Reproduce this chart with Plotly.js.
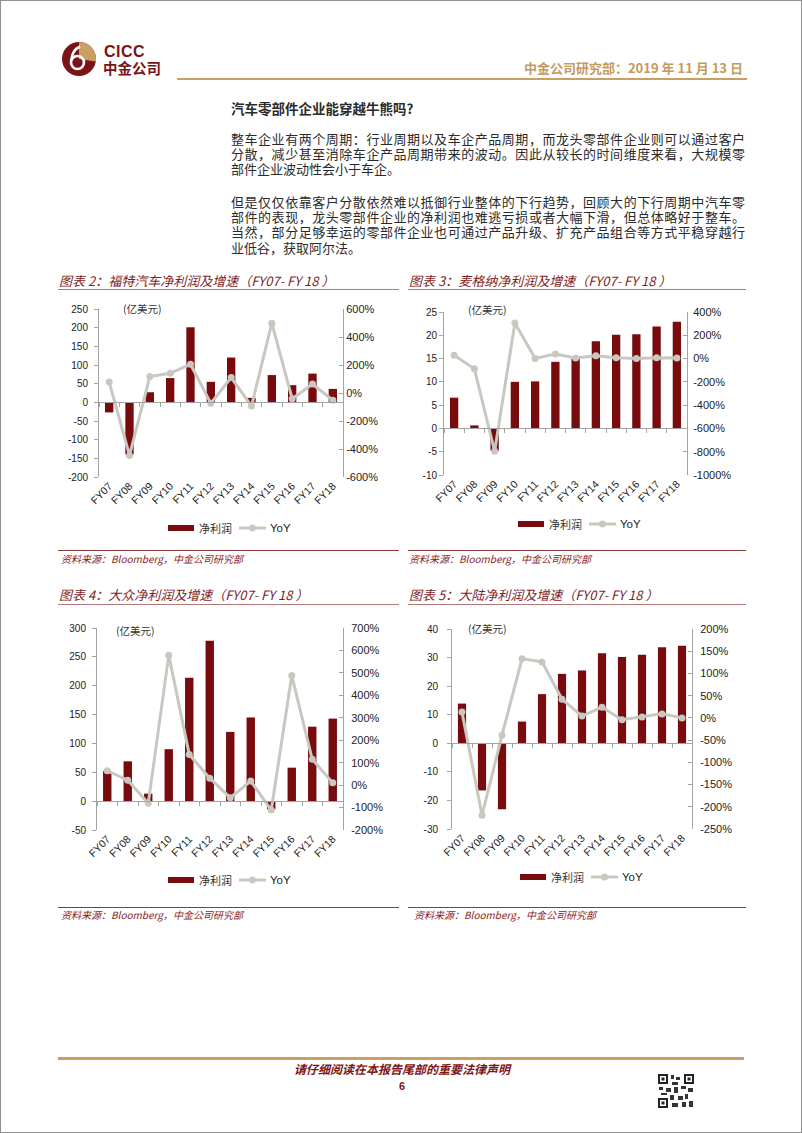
<!DOCTYPE html>
<html>
<head>
<meta charset="utf-8">
<script src="https://cdn.plot.ly/plotly-3.0.1.min.js"></script>
<style>
  body { margin: 0; background: #fff; }
  #page { position: relative; width: 800px; height: 1131px; border: 1px solid #8f8f8f; background: #fff; overflow: hidden;
          font-family: "Noto Sans CJK SC", sans-serif; }
  .abs { position: absolute; }
  .line { position: absolute; left: 230px; width: 514px; height: 15px; line-height: 15px; font-size: 13px; color: #2a2a2a; white-space: nowrap; }
  .full { text-align: justify; text-align-last: justify; }
  .ctitle { position: absolute; font-size: 13px; font-style: italic; color: #7f1d1d; line-height: 16px; white-space: nowrap; }
  .crule { position: absolute; height: 1px; background: #b07a7a; }
  .srule { position: absolute; height: 1px; background: #8b3a3a; }
  .src { position: absolute; font-size: 10px; font-style: italic; color: #8b1a1a; line-height: 12px; white-space: nowrap; }
  .chart { position: absolute; }
</style>
</head>
<body>
<div id="page">
  <!-- header -->
  <svg class="abs" style="left:60px;top:40px" width="36" height="36" viewBox="0 0 36 36">
    <circle cx="18" cy="18" r="17" fill="#7b1416"/>
    <path d="M18,18 L18,1 A17,17 0 0 1 34.8,20.5 Z" fill="#c9a063"/>
    <circle cx="16.5" cy="21.5" r="6.5" fill="none" stroke="#fff" stroke-width="2.6"/>
    <path d="M10.2,20 Q11,9 19,5.5" fill="none" stroke="#fff" stroke-width="2.6"/>
  </svg>
  <div class="abs" style="left:103px;top:42px;font:bold 16px 'Liberation Sans',Arial,sans-serif;color:#7b1416;letter-spacing:0.5px">CICC</div>
  <div class="abs" style="left:102px;top:58px;font-size:14.5px;font-weight:bold;color:#7b1416;line-height:17px">中金公司</div>
  <div class="abs" style="right:58px;top:59px;font-size:13px;font-weight:bold;color:#c39a5f;line-height:16px">中金公司研究部：2019 年 11 月 13 日</div>
  <div class="abs" style="left:176px;top:77px;width:570px;height:2px;background:#c9a063"></div>

  <!-- text -->
  <div class="line" style="top:100px;font-weight:bold;font-size:13.5px">汽车零部件企业能穿越牛熊吗?</div>
  <div class="line full" style="top:130px">整车企业有两个周期：行业周期以及车企产品周期，而龙头零部件企业则可以通过客户</div>
  <div class="line full" style="top:145px">分散，减少甚至消除车企产品周期带来的波动。因此从较长的时间维度来看，大规模零</div>
  <div class="line" style="top:160px">部件企业波动性会小于车企。</div>
  <div class="line full" style="top:193px">但是仅仅依靠客户分散依然难以抵御行业整体的下行趋势，回顾大的下行周期中汽车零</div>
  <div class="line full" style="top:208px">部件的表现，龙头零部件企业的净利润也难逃亏损或者大幅下滑，但总体略好于整车。</div>
  <div class="line full" style="top:223px">当然，部分足够幸运的零部件企业也可通过产品升级、扩充产品组合等方式平稳穿越行</div>
  <div class="line" style="top:239px">业低谷，获取阿尔法。</div>

  <!-- chart frames -->
  <div class="ctitle" style="left:58px;top:272px">图表 2：福特汽车净利润及增速（FY07- FY 18 ）</div>
  <div class="crule" style="left:57px;top:288px;width:341px"></div>
  <div class="ctitle" style="left:408px;top:272px">图表 3：麦格纳净利润及增速（FY07- FY 18 ）</div>
  <div class="crule" style="left:407px;top:288px;width:338px"></div>
  <div class="ctitle" style="left:58px;top:586px">图表 4：大众净利润及增速（FY07- FY 18 ）</div>
  <div class="crule" style="left:57px;top:603px;width:341px"></div>
  <div class="ctitle" style="left:408px;top:586px">图表 5：大陆净利润及增速（FY07- FY 18 ）</div>
  <div class="crule" style="left:407px;top:603px;width:338px"></div>

  <div id="chartFord" class="chart"></div>
  <div id="chartMagna" class="chart"></div>
  <div id="chartVW" class="chart"></div>
  <div id="chartConti" class="chart"></div>

  <div class="srule" style="left:57px;top:549px;width:341px"></div>
  <div class="src" style="left:60px;top:552px">资料来源：Bloomberg，中金公司研究部</div>
  <div class="srule" style="left:407px;top:549px;width:338px"></div>
  <div class="src" style="left:408px;top:552px">资料来源：Bloomberg，中金公司研究部</div>
  <div class="srule" style="left:57px;top:906px;width:341px"></div>
  <div class="src" style="left:60px;top:908px">资料来源：Bloomberg，中金公司研究部</div>
  <div class="srule" style="left:407px;top:906px;width:338px"></div>
  <div class="src" style="left:413px;top:908px">资料来源：Bloomberg，中金公司研究部</div>

  <!-- footer -->
  <div class="abs" style="left:57px;top:1056px;width:686px;height:3px;background:#c9a063"></div>
  <div class="abs" style="left:0;width:802px;top:1061px;text-align:center;font-size:12px;font-style:italic;font-weight:bold;color:#7f1416;line-height:14px">请仔细阅读在本报告尾部的重要法律声明</div>
  <div class="abs" style="left:0;width:802px;top:1078px;text-align:center;font:bold 11px 'Liberation Sans',Arial,sans-serif;color:#7f1416;line-height:14px">6</div>
  <svg class="abs" style="left:657px;top:1073px" width="36" height="34" viewBox="0 0 36 34">
    <rect x="0" y="0" width="10" height="10" fill="#222"/><rect x="2" y="2" width="6" height="6" fill="#fff"/><rect x="3.5" y="3.5" width="3" height="3" fill="#222"/>
    <rect x="26" y="0" width="10" height="10" fill="#222"/><rect x="28" y="2" width="6" height="6" fill="#fff"/><rect x="29.5" y="3.5" width="3" height="3" fill="#222"/>
    <rect x="0" y="24" width="10" height="10" fill="#222"/><rect x="2" y="26" width="6" height="6" fill="#fff"/><rect x="3.5" y="27.5" width="3" height="3" fill="#222"/>
    <rect x="13" y="1" width="3" height="4" fill="#333"/><rect x="18" y="3" width="4" height="3" fill="#333"/><rect x="14" y="8" width="6" height="3" fill="#333"/>
    <rect x="1" y="13" width="4" height="3" fill="#333"/><rect x="8" y="14" width="5" height="4" fill="#333"/><rect x="16" y="13" width="4" height="6" fill="#333"/>
    <rect x="23" y="12" width="5" height="3" fill="#333"/><rect x="30" y="14" width="5" height="4" fill="#333"/><rect x="3" y="19" width="6" height="2" fill="#333"/>
    <rect x="12" y="21" width="4" height="5" fill="#333"/><rect x="20" y="22" width="5" height="4" fill="#333"/><rect x="27" y="20" width="3" height="5" fill="#333"/>
    <rect x="14" y="29" width="6" height="4" fill="#333"/><rect x="24" y="28" width="4" height="5" fill="#333"/><rect x="31" y="27" width="4" height="6" fill="#333"/>
  </svg>
</div>

<script>
// ---- data ----
const categories = ['FY07', 'FY08', 'FY09', 'FY10', 'FY11', 'FY12', 'FY13', 'FY14', 'FY15', 'FY16', 'FY17', 'FY18'];

// Ford (亿美元, %)
const fordProfit = [-27, -140, 27, 65, 201, 55, 120, 12, 73, 46, 77, 36];
const fordYoY = [79, -446, 117, 141, 205, -74, 110, -93, 499, -41, 64, -52];
const fordLeftTicks = [-200, -150, -100, -50, 0, 50, 100, 150, 200, 250];
const fordRightTicks = [-600, -400, -200, 0, 200, 400, 600];

// Magna
const magnaProfit = [6.6, 0.65, -4.8, 10.0, 10.1, 14.3, 15.0, 18.7, 20.1, 20.2, 21.9, 22.9];
const magnaYoY = [28, -88, -796, 305, 0, 40, 5, 24, 7, 1, 8, 5];
const magnaLeftTicks = [-10, -5, 0, 5, 10, 15, 20, 25];
const magnaRightTicks = [-1000, -800, -600, -400, -200, 0, 200, 400];

// Volkswagen
const vwProfit = [52, 69, 13, 90, 214, 278, 120, 145, -14, 58, 129, 143];
const vwYoY = [64, 22, -81, 579, 136, 31, -56, 18, -111, 488, 115, 10];
const vwLeftTicks = [-50, 0, 50, 100, 150, 200, 250, 300];
const vwRightTicks = [-200, -100, 0, 100, 200, 300, 400, 500, 600, 700];

// Continental
const contiProfit = [13.9, -16.5, -23.1, 7.6, 17.2, 24.3, 25.5, 31.5, 30.2, 31.0, 33.6, 34.1];
const contiYoY = [13, -219, -39, 133, 126, 42, 4, 24, -4, 2, 9, 0];
const contiLeftTicks = [-30, -20, -10, 0, 10, 20, 30, 40];
const contiRightTicks = [-250, -200, -150, -100, -50, 0, 50, 100, 150, 200];

const barName = '净利润';
const lineName = 'YoY';
const unitLabel = '(亿美元)';

const barColor = '#780b0e';
const lineColor = '#c8c8c0';
const axisColor = '#a3a3a3';

function drawChart(divId, box, plot, profit, yoy, leftTicks, rightTicks, opts) {
  const div = document.getElementById(divId);
  div.style.left = box.x + 'px';
  div.style.top = box.y + 'px';
  div.style.width = box.w + 'px';
  div.style.height = box.h + 'px';

  const pw = plot.x1 - plot.x0, ph = plot.y1 - plot.y0;
  // page pixels -> paper coordinates
  const px = v => (v - plot.x0) / pw;
  const py = v => (plot.y1 - v) / ph;

  const lmin = leftTicks[0], lmax = leftTicks[leftTicks.length - 1];
  const rmin = rightTicks[0], rmax = rightTicks[rightTicks.length - 1];
  const zeroPos = (0 - lmin) / (lmax - lmin);

  const bars = {
    type: 'bar', x: categories, y: profit, name: barName,
    marker: { color: barColor }, xaxis: 'x', yaxis: 'y', hoverinfo: 'skip'
  };
  const line = {
    type: 'scatter', mode: 'lines+markers', x: categories, y: yoy, name: lineName,
    line: { color: lineColor, width: 3 }, marker: { color: lineColor, size: 7 },
    xaxis: 'x2', yaxis: 'y2', cliponaxis: false, hoverinfo: 'skip'
  };

  const lx = opts.legendX, ly = opts.legendY;
  const layout = {
    width: box.w, height: box.h,
    margin: { l: plot.x0 - box.x, r: box.x + box.w - plot.x1, t: plot.y0 - box.y, b: box.y + box.h - plot.y1, pad: 0 },
    paper_bgcolor: 'rgba(0,0,0,0)', plot_bgcolor: 'rgba(0,0,0,0)',
    showlegend: false,
    bargap: 0.59,
    font: { family: '"Liberation Sans", Arial, sans-serif', size: 10, color: '#222' },
    xaxis: {
      type: 'category', range: [-0.5, 11.5], showline: false, ticks: '', showgrid: false, zeroline: false,
      tickangle: -45, tickfont: { size: 10.5 }, fixedrange: true
    },
    xaxis2: {
      type: 'category', overlaying: 'x', matches: 'x', anchor: 'free', position: zeroPos,
      showline: true, linecolor: axisColor, linewidth: 1, ticks: 'outside', tickson: 'boundaries',
      ticklen: 4, tickcolor: axisColor, showticklabels: false, showgrid: false, zeroline: false
    },
    yaxis: {
      range: [lmin, lmax], tickvals: leftTicks, ticktext: leftTicks.map(v => String(v)),
      showline: true, linecolor: axisColor, ticks: 'outside', ticklen: 4, tickcolor: axisColor,
      showgrid: false, zeroline: false, tickfont: { size: 10 }, ticklabelstandoff: opts.leftGap
    },
    yaxis2: {
      overlaying: 'y', side: 'right', anchor: 'x', range: [rmin, rmax],
      tickvals: rightTicks, ticktext: rightTicks.map(v => v + '%'),
      showline: true, linecolor: axisColor, ticks: 'inside', ticklen: 4, tickcolor: axisColor,
      showgrid: false, zeroline: false, tickfont: { size: 11 }, ticklabelstandoff: opts.rightGap
    },
    shapes: [
      { type: 'rect', xref: 'paper', yref: 'paper', x0: px(lx), x1: px(lx + 26), y0: py(ly + 3), y1: py(ly - 3),
        fillcolor: barColor, line: { width: 0 } },
      { type: 'line', xref: 'paper', yref: 'paper', x0: px(lx + 71), x1: px(lx + 98), y0: py(ly), y1: py(ly),
        line: { color: lineColor, width: 3 } },
      { type: 'circle', xref: 'paper', yref: 'paper', x0: px(lx + 81), x1: px(lx + 88), y0: py(ly + 3.5), y1: py(ly - 3.5),
        fillcolor: lineColor, line: { width: 0 } }
    ],
    annotations: [
      { xref: 'paper', yref: 'paper', x: px(lx + 29), y: py(ly), xanchor: 'left', yanchor: 'middle', showarrow: false,
        text: barName, font: { family: '"Noto Sans CJK SC", sans-serif', size: 11, color: '#333' } },
      { xref: 'paper', yref: 'paper', x: px(lx + 100), y: py(ly), xanchor: 'left', yanchor: 'middle', showarrow: false,
        text: lineName, font: { size: 11.5, color: '#222' } },
      { xref: 'paper', yref: 'paper', x: px(opts.unitX), y: py(opts.unitY), xanchor: 'left', yanchor: 'middle', showarrow: false,
        text: unitLabel, font: { family: '"Noto Sans CJK SC", sans-serif', size: 10.5, color: '#333' } }
    ]
  };

  Plotly.newPlot(divId, [bars, line], layout, { staticPlot: true, displayModeBar: false });
}

drawChart('chartFord', { x: 40, y: 295, w: 360, h: 250 }, { x0: 98, x1: 342, y0: 308, y1: 476 },
  fordProfit, fordYoY, fordLeftTicks, fordRightTicks,
  { legendX: 167, legendY: 527, unitX: 120, unitY: 307, leftGap: 4, rightGap: 0 });

drawChart('chartMagna', { x: 400, y: 295, w: 360, h: 250 }, { x0: 443, x1: 686, y0: 311, y1: 474 },
  magnaProfit, magnaYoY, magnaLeftTicks, magnaRightTicks,
  { legendX: 517, legendY: 523, unitX: 465, unitY: 308, leftGap: 0, rightGap: 3 });

drawChart('chartVW', { x: 40, y: 612, w: 360, h: 290 }, { x0: 96, x1: 342, y0: 627, y1: 829 },
  vwProfit, vwYoY, vwLeftTicks, vwRightTicks,
  { legendX: 167, legendY: 879, unitX: 113, unitY: 629, leftGap: 4, rightGap: 5 });

drawChart('chartConti', { x: 400, y: 612, w: 360, h: 290 }, { x0: 451, x1: 691, y0: 628, y1: 828 },
  contiProfit, contiYoY, contiLeftTicks, contiRightTicks,
  { legendX: 519, legendY: 876, unitX: 465, unitY: 627, leftGap: 7, rightGap: 5 });
</script>
</body>
</html>
